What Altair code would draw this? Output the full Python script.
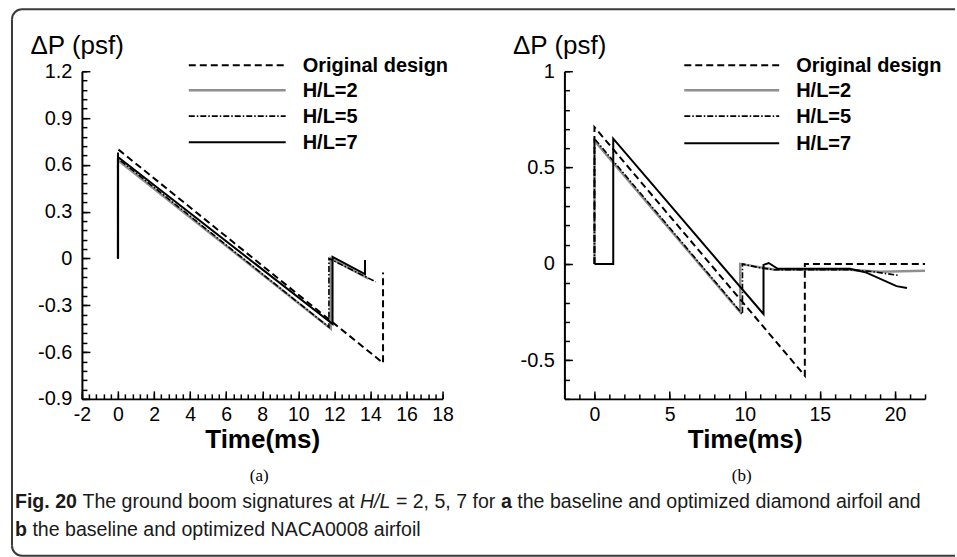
import math
import altair as alt
import pandas as pd

# ---------------- data ----------------
SERIES = ["Original design", "H/L=2", "H/L=5", "H/L=7"]

# panel (a): diamond airfoil
a_orig_t = [0, 0, 14.7, 14.7]
a_orig_p = [0, 0.70, -0.67, -0.09]
a_hl2_t = [0, 0, 11.8, 11.8, 13.9]
a_hl2_p = [0, 0.63, -0.45, 0.0, -0.13]
a_hl5_t = [0, 0, 11.7, 11.7, 14.3]
a_hl5_p = [0, 0.64, -0.44, 0.0, -0.15]
a_hl7_t = [0, 0, 11.9, 11.9, 13.7, 13.7]
a_hl7_p = [0, 0.65, -0.42, 0.01, -0.10, -0.01]

# panel (b): NACA0008 airfoil
b_orig_t = [0, 0, 14.0, 14.0, 22.0]
b_orig_p = [0, 0.71, -0.58, 0.0, 0.0]
b_hl2_t = [0, 0, 9.7, 9.7, 10.5, 12.0, 17.0, 19.0, 22.0]
b_hl2_p = [0, 0.64, -0.25, 0.0, -0.01, -0.03, -0.03, -0.04, -0.035]
b_hl5_t = [0, 0, 9.85, 9.85, 11.0, 12.0, 17.0, 18.5, 20.3]
b_hl5_p = [0, 0.65, -0.26, 0.0, -0.02, -0.03, -0.03, -0.04, -0.06]
b_hl7_t = [0, 1.25, 1.25, 11.25, 11.25, 11.6, 12.2, 17.0, 18.1, 20.1, 20.8]
b_hl7_p = [0, 0, 0.65, -0.26, -0.005, 0.005, -0.025, -0.025, -0.045, -0.115, -0.125]

# axis ticks
a_x_major = [-2, 0, 2, 4, 6, 8, 10, 12, 14, 16, 18]
a_y_major = [-0.9, -0.6, -0.3, 0, 0.3, 0.6, 0.9, 1.2]
b_x_major = [0, 5, 10, 15, 20]
b_y_major = [-0.5, 0, 0.5, 1.0]
a_x_minor = [round(-2 + 0.4 * k, 2) for k in range(51)]
a_y_minor = [round(-0.9 + 0.06 * k, 2) for k in range(36)]
b_x_minor = [float(k) for k in range(-2, 23)]
b_y_minor = [round(-0.7 + 0.1 * k, 2) for k in range(18)]

CAPTION_1 = [("Fig. 20", "bold"), (" The ground boom signatures at ", "normal"),
             ("H/L", "italic"), (" = 2, 5, 7 for ", "normal"), ("a", "bold"),
             (" the baseline and optimized diamond airfoil and", "normal")]
CAPTION_2 = [("b", "bold"), (" the baseline and optimized NACA0008 airfoil", "normal")]

# ---------------- styling ----------------
FONT = "Liberation Sans"
W, H = 361, 328
STYLE = {
    "Original design": dict(color="black", strokeDash=[7, 4], strokeWidth=2),
    "H/L=2": dict(color="#8f8f8f", strokeWidth=2.5),
    "H/L=5": dict(color="black", strokeDash=[6, 2, 1.5, 2], strokeWidth=1.6),
    "H/L=7": dict(color="black", strokeWidth=2),
}
DRAW_ORDER = ["H/L=2", "H/L=5", "Original design", "H/L=7"]
MINUS_FIX = "replace(datum.label, '\u2212', '-')"

REG = {' ': 278, '(': 333, ')': 333, ',': 278, '-': 333, '.': 278, '/': 278, '=': 584,
       'A': 667, 'B': 667, 'C': 722, 'D': 722, 'E': 667, 'F': 611, 'G': 778, 'H': 722,
       'I': 278, 'J': 500, 'K': 667, 'L': 556, 'M': 833, 'N': 722, 'O': 778, 'P': 667,
       'Q': 778, 'R': 722, 'S': 667, 'T': 611, 'U': 722, 'V': 667, 'W': 944, 'X': 667,
       'Y': 667, 'Z': 611,
       'a': 556, 'b': 556, 'c': 500, 'd': 556, 'e': 556, 'f': 278, 'g': 556, 'h': 556,
       'i': 222, 'j': 222, 'k': 500, 'l': 222, 'm': 833, 'n': 556, 'o': 556, 'p': 556,
       'q': 556, 'r': 333, 's': 500, 't': 278, 'u': 556, 'v': 500, 'w': 722, 'x': 500,
       'y': 500, 'z': 500}
BOLD = dict(REG)
BOLD.update({'a': 556, 'b': 611, 'g': 611, 'i': 278, 'F': 611})


def text_width(s, style, size):
    table = BOLD if style == "bold" else REG
    return sum(table.get(c, 556) for c in s) / 1000.0 * size


ONE = pd.DataFrame({"k": [0]})


def make_df(ts, ps, name):
    return pd.DataFrame({"t": ts, "p": ps, "i": list(range(len(ts))), "s": name})


def caption_layers(segments, x0, y, size):
    out = []
    x = x0
    for txt, style in segments:
        lead = len(txt) - len(txt.lstrip(" "))
        xs = x + text_width(txt[:lead], style, size)
        kw = dict(text=txt.strip(), align="left", baseline="alphabetic", font=FONT,
                  fontSize=size, color="#1a1a1a")
        if style == "bold":
            kw["fontWeight"] = "bold"
        if style == "italic":
            kw["fontStyle"] = "italic"
        out.append(alt.Chart(ONE).mark_text(**kw).encode(x=alt.value(xs), y=alt.value(y)))
        x += text_width(txt, style, size)
    return out


def panel(series, xdom, ydom, xmaj, xmin_, ymaj, ymin_, xfmt, yfmt,
          leg_x0, leg_x1, leg_tx, leg_y, extra):
    xs = alt.Scale(domain=xdom, nice=False, zero=False)
    ys = alt.Scale(domain=ydom, nice=False, zero=False)
    dfs = {k: make_df(series[k][0], series[k][1], k) for k in SERIES}
    alld = pd.concat(list(dfs.values()), ignore_index=True)
    base = alt.Chart(alld)

    main = base.mark_point(opacity=0).encode(
        x=alt.X("t:Q", scale=xs, axis=alt.Axis(
            orient="bottom", values=xmaj, format=xfmt, labelExpr=MINUS_FIX,
            ticks=False, tickSize=0, domain=True, domainColor="black", domainWidth=2,
            grid=False, labelFont=FONT, labelFontSize=19.5, labelColor="black",
            labelPadding=21.5, labelBaseline="alphabetic", labelFlush=False,
            labelOverlap=False, title="Time(ms)", titleFont=FONT, titleFontSize=26,
            titleFontWeight="bold", titleColor="black", titleX=W / 2, titleY=49,
            titleAlign="center", titleBaseline="alphabetic")),
        y=alt.Y("p:Q", scale=ys, axis=alt.Axis(
            orient="left", values=ymaj, format=yfmt, labelExpr=MINUS_FIX,
            ticks=False, tickSize=0, domain=True, domainColor="black", domainWidth=2,
            grid=False, labelFont=FONT, labelFontSize=20, labelColor="black",
            labelPadding=10, labelBaseline="middle", labelFlush=False,
            labelOverlap=False, title="\u0394P (psf)", titleFont=FONT, titleFontSize=26,
            titleFontWeight="normal", titleColor="black", titleAngle=0,
            titleX=-52, titleY=-18, titleAlign="left", titleBaseline="alphabetic")),
    )

    def tick_layer(xv, yv, size):
        return base.mark_point(opacity=0).encode(
            x=alt.X("t:Q", scale=xs, axis=alt.Axis(
                orient="bottom", values=xv, labels=False, domain=False, ticks=True,
                tickSize=size, tickWidth=1.5, tickColor="black", offset=-size,
                grid=False, title="")),
            y=alt.Y("p:Q", scale=ys, axis=alt.Axis(
                orient="left", values=yv, labels=False, domain=False, ticks=True,
                tickSize=size, tickWidth=1.5, tickColor="black", offset=-size,
                grid=False, title="")),
        )

    layers = [main, tick_layer(xmaj, ymaj, 8), tick_layer(xmin_, ymin_, 5)]

    for name in DRAW_ORDER:
        layers.append(
            alt.Chart(dfs[name]).mark_line(**STYLE[name]).encode(
                x=alt.X("t:Q", scale=xs, axis=None),
                y=alt.Y("p:Q", scale=ys, axis=None),
                order=alt.Order("i:Q"),
            )
        )

    for k, name in enumerate(SERIES):
        layers.append(alt.Chart(ONE).mark_rule(**STYLE[name]).encode(
            x=alt.value(leg_x0), x2=alt.value(leg_x1), y=alt.value(leg_y[k])))
        layers.append(alt.Chart(ONE).mark_text(
            text=name, align="left", baseline="alphabetic", font=FONT, fontSize=20,
            fontWeight="bold", color="black").encode(
            x=alt.value(leg_tx), y=alt.value(leg_y[k] + 7)))

    layers.extend(extra)
    return alt.layer(*layers).resolve_axis(x="independent", y="independent").properties(
        width=W, height=H)


# ---------------- frame, sub-labels and caption (pixels relative to panel a) ----------------
FRAME = "#3a3a3a"
frame = [
    alt.Chart(ONE).mark_rule(color=FRAME, strokeWidth=2).encode(
        x=alt.value(-70), y=alt.value(-52), y2=alt.value(475)),
    alt.Chart(ONE).mark_rule(color=FRAME, strokeWidth=2).encode(
        x=alt.value(-60), x2=alt.value(874), y=alt.value(-62)),
    alt.Chart(ONE).mark_rule(color=FRAME, strokeWidth=2).encode(
        x=alt.value(-60), x2=alt.value(874), y=alt.value(485)),
    alt.Chart(ONE).mark_arc(innerRadius=9, outerRadius=11, theta=1.5 * math.pi,
                            theta2=2 * math.pi, color=FRAME).encode(
        x=alt.value(-60), y=alt.value(-52)),
    alt.Chart(ONE).mark_arc(innerRadius=9, outerRadius=11, theta=math.pi,
                            theta2=1.5 * math.pi, color=FRAME).encode(
        x=alt.value(-60), y=alt.value(475)),
]

CAP_SIZE = 19.6
extra_a = frame + [
    alt.Chart(ONE).mark_text(text="(a)", font="Liberation Serif", fontSize=17,
                             align="center", baseline="alphabetic", color="black").encode(
        x=alt.value(W / 2 - 3), y=alt.value(410)),
] + caption_layers(CAPTION_1, -67, 437, CAP_SIZE) + caption_layers(CAPTION_2, -67, 465, CAP_SIZE)

extra_b = [
    alt.Chart(ONE).mark_text(text="(b)", font="Liberation Serif", fontSize=17,
                             align="center", baseline="alphabetic", color="black").encode(
        x=alt.value(W / 2 - 3), y=alt.value(410)),
]

series_a = {"Original design": (a_orig_t, a_orig_p), "H/L=2": (a_hl2_t, a_hl2_p),
            "H/L=5": (a_hl5_t, a_hl5_p), "H/L=7": (a_hl7_t, a_hl7_p)}
series_b = {"Original design": (b_orig_t, b_orig_p), "H/L=2": (b_hl2_t, b_hl2_p),
            "H/L=5": (b_hl5_t, b_hl5_p), "H/L=7": (b_hl7_t, b_hl7_p)}

panel_a = panel(series_a, [-2, 18], [-0.9, 1.2], a_x_major, a_x_minor, a_y_major, a_y_minor,
                "d", ".1~f", 107, 204, 221, [-6, 19, 45, 71], extra_a)
panel_b = panel(series_b, [-2, 22], [-0.7, 1.0], b_x_major, b_x_minor, b_y_major, b_y_minor,
                "d", ".1~f", 120, 215, 232, [-6, 19, 45, 72], extra_b)

chart = alt.hconcat(panel_a, panel_b, spacing=122, bounds="flush").properties(
    padding={"left": 10, "top": 7, "right": 0, "bottom": 0},
    background="white",
).configure_view(stroke="transparent")

chart.save("out.html", embed_options={"renderer": "svg", "actions": False})
